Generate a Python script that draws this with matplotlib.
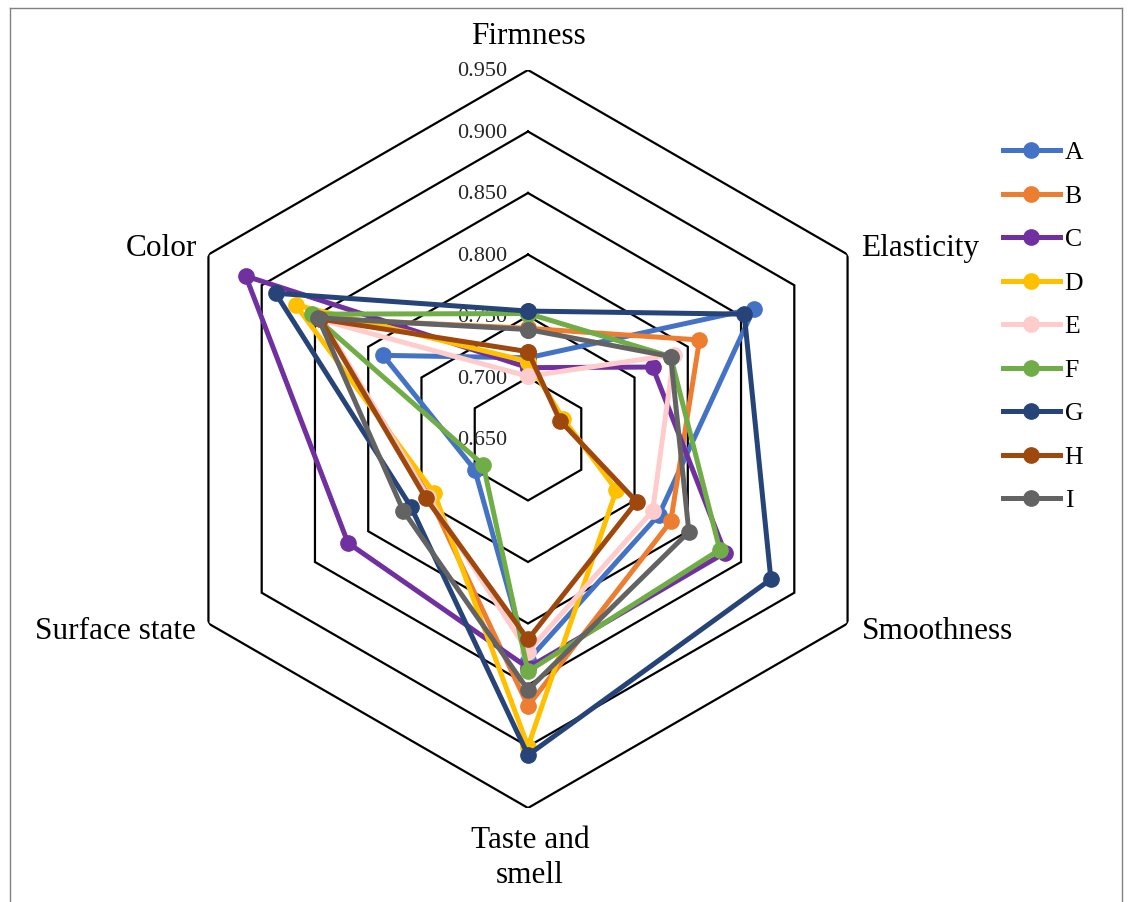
import numpy as np
import matplotlib.pyplot as plt
from matplotlib.lines import Line2D

plt.rcParams['font.family'] = ['Liberation Serif', 'DejaVu Serif']

# Sensory attributes, clockwise from the top
categories = ['Firmness', 'Elasticity', 'Smoothness', 'Taste and\nsmell', 'Surface state', 'Color']

# Scores per sample, same order as categories
A = [0.716, 0.862, 0.773, 0.830, 0.700, 0.786]
B = [0.740, 0.811, 0.784, 0.867, 0.743, 0.846]
C = [0.708, 0.767, 0.835, 0.836, 0.819, 0.915]
D = [0.713, 0.683, 0.733, 0.900, 0.738, 0.868]
E = [0.701, 0.787, 0.767, 0.823, 0.744, 0.843]
F = [0.752, 0.784, 0.830, 0.839, 0.692, 0.853]
G = [0.754, 0.853, 0.878, 0.907, 0.760, 0.887]
H = [0.721, 0.680, 0.752, 0.813, 0.746, 0.845]
I = [0.739, 0.784, 0.801, 0.854, 0.767, 0.847]

series_names = ['A', 'B', 'C', 'D', 'E', 'F', 'G', 'H', 'I']
series_values = [A, B, C, D, E, F, G, H, I]
colors = ['#4472C4', '#ED7D31', '#7030A0', '#FFC000', '#FFCCCC',
          '#70AD47', '#264478', '#9E480E', '#636363']

ring_values = [0.700, 0.750, 0.800, 0.850, 0.900, 0.950]
tick_labels = ['0.650', '0.700', '0.750', '0.800', '0.850', '0.900', '0.950']
tick_values = [0.650] + ring_values
r_min, r_max = 0.65, 0.95

W, Hpx = 1133, 902
fig = plt.figure(figsize=(W / 100, Hpx / 100), dpi=100)

# polar axes centred at (528, 439) px with outer ring radius 369 px
cx, cy, R = 528, 439, 369
ax = fig.add_axes([(cx - R) / W, (Hpx - cy - R) / Hpx, 2 * R / W, 2 * R / Hpx],
                  projection='polar')
ax.set_theta_offset(np.pi / 2)
ax.set_theta_direction(-1)
ax.set_ylim(r_min, r_max)
ax.grid(False)
ax.spines['polar'].set_visible(False)
ax.set_xticks([])
ax.set_yticks([])
ax.patch.set_alpha(0)

n = len(categories)
angles = np.linspace(0, 2 * np.pi, n, endpoint=False)
closed = np.append(angles, angles[0])

# hexagonal gridlines
for rv in ring_values:
    ax.plot(closed, [rv] * (n + 1), color='black', lw=1.6, zorder=1,
            solid_joinstyle='miter')

# radial value labels along the top spoke
for tv, tl in zip(tick_values, tick_labels):
    ax.annotate(tl, xy=(0, tv), xytext=(-21, -2), textcoords='offset pixels',
                ha='right', va='center', fontsize=16, color='#262626')

# data series
for name, vals, col in zip(series_names, series_values, colors):
    v = list(vals) + [vals[0]]
    ax.plot(closed, v, color=col, lw=3.6, marker='o', markersize=11,
            label=name, zorder=3, solid_joinstyle='round')

# category labels
label_offsets = [(0, 33, 'center'), (14, 6, 'left'), (14, -8, 'left'),
                 (2, -50, 'center'), (-13, -8, 'right'), (-11, 6, 'right')]
for ang, cat, (dx, dy, ha) in zip(angles, categories, label_offsets):
    ax.annotate(cat, xy=(ang, r_max), xytext=(dx, dy), textcoords='offset pixels',
                ha=ha, va='center', fontsize=22.5, linespacing=1.25,
                annotation_clip=False)

handles, labels = ax.get_legend_handles_labels()
fig.legend(handles, labels, loc='upper left', bbox_to_anchor=(1003 / W, 1 - 141 / Hpx),
           frameon=False, fontsize=18.5, labelspacing=0.8, handlelength=2.2,
           handletextpad=0.2, borderpad=0, borderaxespad=0)

# outer chart border
border = dict(color='#808080', lw=1, transform=fig.transFigure)
fig.add_artist(Line2D([10 / W, 10 / W], [0, 1 - 8 / Hpx], **border))
fig.add_artist(Line2D([10 / W, 1122 / W], [1 - 8 / Hpx, 1 - 8 / Hpx], **border))
fig.add_artist(Line2D([1122 / W, 1122 / W], [0, 1 - 8 / Hpx], **border))

fig.savefig('out.png', dpi=100)
